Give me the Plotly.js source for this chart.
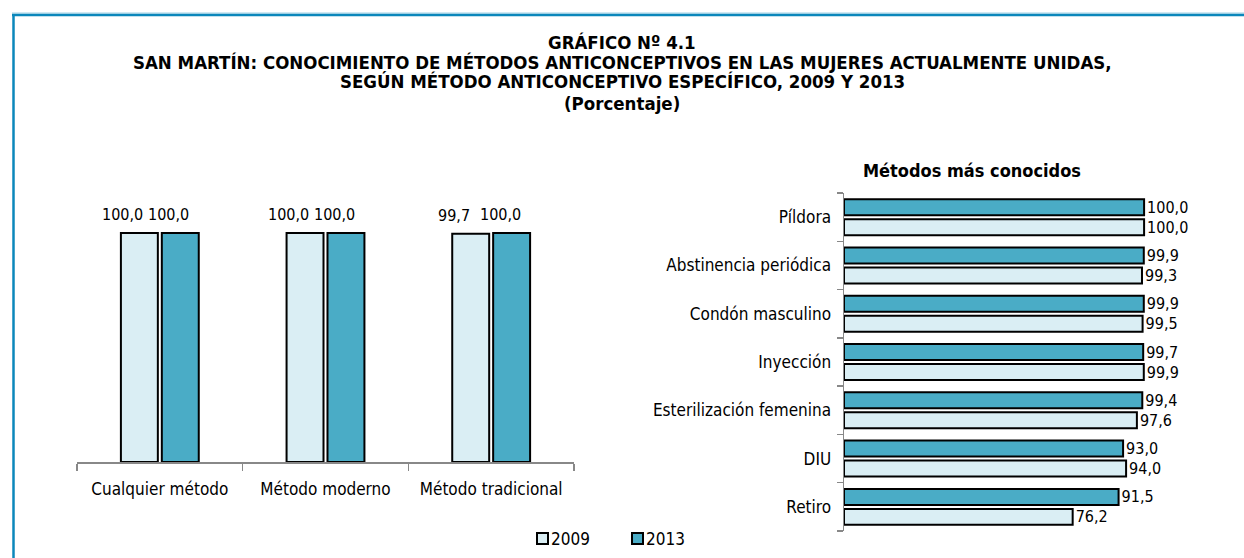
<!DOCTYPE html>
<html>
<head>
<meta charset="utf-8">
<script src="https://cdn.plot.ly/plotly-3.0.1.min.js"></script>
<style>html,body{margin:0;padding:0;background:#fff;}#chart{width:1244px;height:558px;}</style>
</head>
<body>
<div id="chart"></div>
<script>
// ---- data ----
const years = ['2009', '2013'];
const leftCategories = ['Cualquier método', 'Método moderno', 'Método tradicional'];
const left2009 = [100.0, 100.0, 99.7];
const left2013 = [100.0, 100.0, 100.0];
const rightCategories = ['Píldora', 'Abstinencia periódica', 'Condón masculino', 'Inyección', 'Esterilización femenina', 'DIU', 'Retiro'];
const right2009 = [100.0, 99.3, 99.5, 99.9, 97.6, 94.0, 76.2];
const right2013 = [100.0, 99.9, 99.9, 99.7, 99.4, 93.0, 91.5];
const titleLines = [
  'GRÁFICO Nº 4.1',
  'SAN MARTÍN: CONOCIMIENTO DE MÉTODOS ANTICONCEPTIVOS EN LAS MUJERES ACTUALMENTE UNIDAS,',
  'SEGÚN MÉTODO ANTICONCEPTIVO ESPECÍFICO, 2009 Y 2013',
  '(Porcentaje)'
];
const rightTitle = 'Métodos más conocidos';

// ---- helpers ----
const FONT = '"DejaVu Sans Condensed", "Liberation Sans Narrow", Arial, sans-serif';
const fmt = v => v.toFixed(1).replace('.', ',');
const C2009 = '#daeef4';
const C2013 = '#4aacc6';
const yearColors = [C2009, C2013];
const lineStyle = {color: '#000', width: 2};
const LBL = 17;
const VAL = 16;

const traces = [
  {type: 'bar', name: years[0], x: leftCategories, y: left2009, xaxis: 'x', yaxis: 'y',
   marker: {color: C2009, line: lineStyle}, width: 0.223, offset: -0.235, hoverinfo: 'none'},
  {type: 'bar', name: years[1], x: leftCategories, y: left2013, xaxis: 'x', yaxis: 'y',
   marker: {color: C2013, line: lineStyle}, width: 0.223, offset: 0.012, hoverinfo: 'none'},
  {type: 'bar', orientation: 'h', name: years[0], y: rightCategories, x: right2009, xaxis: 'x2', yaxis: 'y2',
   marker: {color: C2009, line: lineStyle}, width: 0.331, offset: -0.373,
   text: right2009.map(fmt), textposition: 'outside', cliponaxis: false, constraintext: 'none',
   textfont: {family: FONT, size: VAL, color: '#000'}, hoverinfo: 'none'},
  {type: 'bar', orientation: 'h', name: years[1], y: rightCategories, x: right2013, xaxis: 'x2', yaxis: 'y2',
   marker: {color: C2013, line: lineStyle}, width: 0.331, offset: 0.041,
   text: right2013.map(fmt), textposition: 'outside', cliponaxis: false, constraintext: 'none',
   textfont: {family: FONT, size: VAL, color: '#000'}, hoverinfo: 'none'}
];

const W = 1244, H = 558;
const px = v => v / W, py = v => 1 - v / H;

const annotations = titleLines.map((t, i) => ({
  text: '<b>' + t + '</b>', xref: 'paper', yref: 'paper', x: 0.5, y: py([42, 62, 82, 103][i]),
  xanchor: 'center', yanchor: 'middle', showarrow: false,
  font: {family: FONT, size: 18.5, color: '#000'}
}));
annotations.push({
  text: '<b>' + rightTitle + '</b>', xref: 'paper', yref: 'paper', x: px(972), y: py(171),
  xanchor: 'center', yanchor: 'middle', showarrow: false,
  font: {family: FONT, size: 18, color: '#000'}
});

// value labels above the left-hand bars (placed at each bar's value on the data axes)
[[left2009, -37], [left2013, 9]].forEach(([vals, shift]) => {
  vals.forEach((v, i) => {
    annotations.push({text: fmt(v), xref: 'x', yref: 'y', x: leftCategories[i], y: v,
      xanchor: 'center', yanchor: 'bottom', xshift: shift, yshift: 7, showarrow: false,
      font: {family: FONT, size: VAL, color: '#000'}});
  });
});

// manual legend (square + text), built from the years array
const legendX = [537, 632];
const shapes = [
  {type: 'line', xref: 'paper', yref: 'paper', x0: px(12), x1: 1, y0: py(13), y1: py(13),
   line: {color: '#9fd0e4', width: 1}},
  {type: 'line', xref: 'paper', yref: 'paper', x0: px(12), x1: 1, y0: py(15), y1: py(15),
   line: {color: '#0b87bb', width: 2.5}},
  {type: 'line', xref: 'paper', yref: 'paper', x0: px(13.5), x1: px(13.5), y0: py(14), y1: 0,
   line: {color: '#0b87bb', width: 2.5}}
];
years.forEach((yr, i) => {
  shapes.push({type: 'rect', xref: 'paper', yref: 'paper',
    x0: px(legendX[i]), x1: px(legendX[i] + 11), y0: py(544), y1: py(533),
    fillcolor: yearColors[i], line: {color: '#000', width: 2}});
  annotations.push({text: yr, xref: 'paper', yref: 'paper', x: px(legendX[i] + 12), y: py(538.5),
    xanchor: 'left', yanchor: 'middle', showarrow: false,
    font: {family: FONT, size: LBL, color: '#000'}});
});

const layout = {
  width: W, height: H,
  margin: {l: 0, r: 0, t: 0, b: 0},
  paper_bgcolor: '#fff', plot_bgcolor: 'rgba(0,0,0,0)',
  barmode: 'group',
  showlegend: false,
  xaxis: {domain: [px(77), px(574)], anchor: 'y', type: 'category',
          showline: true, linecolor: '#888', linewidth: 1.5, ticks: 'outside', tickson: 'boundaries',
          ticklen: 7, tickcolor: '#888', tickwidth: 1.5, showgrid: false, zeroline: false,
          ticklabelstandoff: 11,
          tickfont: {family: FONT, size: LBL, color: '#000'}, fixedrange: true},
  yaxis: {domain: [py(462), py(200)], anchor: 'x', range: [0, 100 * 262 / 229],
          visible: false, showgrid: false, zeroline: false, fixedrange: true},
  xaxis2: {domain: [px(844), px(1172)], anchor: 'y2', range: [0, 109.3],
           visible: false, showgrid: false, zeroline: false, fixedrange: true},
  yaxis2: {domain: [py(531), py(193)], anchor: 'x2', type: 'category',
           categoryorder: 'array', categoryarray: rightCategories.slice().reverse(),
           showline: true, linecolor: '#888', linewidth: 1.5, ticks: 'outside', tickson: 'boundaries',
           ticklen: 6, tickcolor: '#888', tickwidth: 1.5, showgrid: false, zeroline: false,
           ticklabelstandoff: 8,
           tickfont: {family: FONT, size: LBL, color: '#000'}, fixedrange: true},
  annotations: annotations,
  shapes: shapes
};

Plotly.newPlot('chart', traces, layout, {staticPlot: true, displayModeBar: false});
</script>
</body>
</html>
